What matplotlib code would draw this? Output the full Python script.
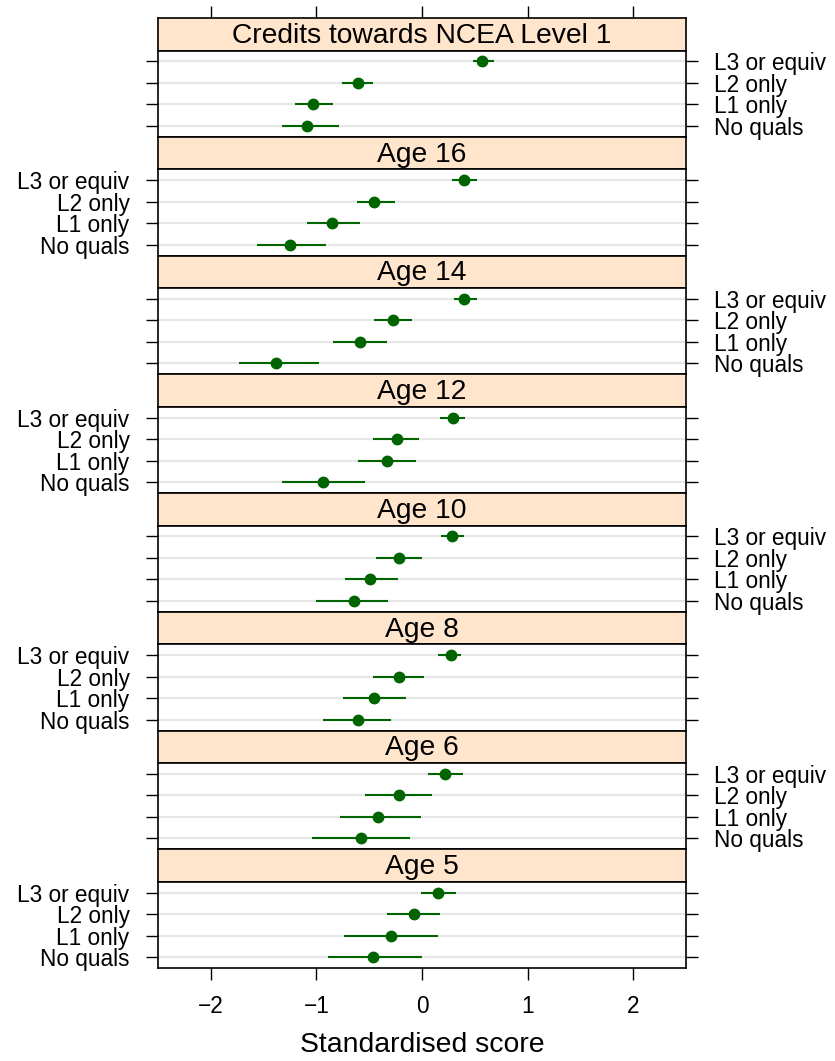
import matplotlib
matplotlib.use("Agg")
import matplotlib.pyplot as plt

plt.rcParams['font.family'] = ['Liberation Sans', 'DejaVu Sans']

# panels, top to bottom
panels = ['Credits towards NCEA Level 1', 'Age 16', 'Age 14', 'Age 12',
          'Age 10', 'Age 8', 'Age 6', 'Age 5']
# levels, bottom to top within a panel
quals = ['No quals', 'L1 only', 'L2 only', 'L3 or equiv']

est = [[-1.09, -1.03, -0.61, 0.57],
       [-1.25, -0.85, -0.45, 0.40],
       [-1.38, -0.59, -0.27, 0.40],
       [-0.94, -0.33, -0.24, 0.29],
       [-0.64, -0.49, -0.22, 0.28],
       [-0.61, -0.45, -0.22, 0.27],
       [-0.58, -0.42, -0.22, 0.22],
       [-0.46, -0.29, -0.08, 0.15]]
lower = [[-1.33, -1.20, -0.76, 0.48],
         [-1.56, -1.09, -0.62, 0.28],
         [-1.73, -0.84, -0.45, 0.30],
         [-1.33, -0.61, -0.46, 0.17],
         [-1.00, -0.73, -0.44, 0.18],
         [-0.94, -0.75, -0.46, 0.15],
         [-1.04, -0.78, -0.54, 0.06],
         [-0.89, -0.74, -0.33, -0.01]]
upper = [[-0.79, -0.84, -0.46, 0.68],
         [-0.91, -0.59, -0.26, 0.52],
         [-0.98, -0.33, -0.09, 0.52],
         [-0.54, -0.06, -0.03, 0.41],
         [-0.32, -0.23, 0.00, 0.40],
         [-0.29, -0.15, 0.02, 0.37],
         [-0.11, -0.01, 0.09, 0.39],
         [0.00, 0.15, 0.17, 0.32]]

W, H = 835, 1061
fig = plt.figure(figsize=(W / 100, H / 100), dpi=100)

left, right = 158, 686
top = 18
step = 118.75
strip_h = 32.5
green = '#006400'
xt = [-2, -1, 0, 1, 2]

for i, name in enumerate(panels):
    s_top = top + i * step
    s_bot = s_top + strip_h
    b_bot = s_top + step
    # strip
    sax = fig.add_axes([left / W, 1 - s_bot / H, (right - left) / W, strip_h / H])
    sax.set_facecolor('#ffe5cc')
    sax.set_xlim(-2.5, 2.5)
    sax.set_yticks([])
    if i == 0:
        sax.set_xticks(xt)
        sax.tick_params(axis='x', top=True, bottom=False, labeltop=False,
                        labelbottom=False, direction='out', length=8.5, width=1)
    else:
        sax.set_xticks([])
    for sp in sax.spines.values():
        sp.set_linewidth(1.2)
    sax.text(0.5, 0.45, name, ha='center', va='center', fontsize=20.3,
             transform=sax.transAxes)
    # body
    ax = fig.add_axes([left / W, 1 - b_bot / H, (right - left) / W, (b_bot - s_bot) / H])
    ypos = range(1, len(quals) + 1)
    for y in ypos:
        ax.axhline(y, color='#e6e6e6', lw=1.5, zorder=1)
    ax.hlines(ypos, lower[i], upper[i], color=green, lw=1.5, zorder=2)
    ax.plot(est[i], ypos, 'o', color=green, ms=7.5, zorder=3)
    ax.set_xlim(-2.5, 2.5)
    ax.set_ylim(0.5, 4.5)
    ax.set_yticks(list(ypos))
    ax.set_yticklabels(quals)
    lab_right = (i % 2 == 0)
    ax.tick_params(axis='y', which='both', left=True, right=True,
                   labelleft=not lab_right, labelright=lab_right,
                   direction='out', length=8.5, width=1, labelsize=16.3,
                   pad=12)
    ax.set_xticks(xt)
    if i == len(panels) - 1:
        ax.set_xticklabels(['\u22122', '\u22121', '0', '1', '2'])
        ax.tick_params(axis='x', top=False, bottom=True, labelbottom=True,
                       direction='out', length=8.5, width=1, labelsize=16.3, pad=11)
        ax.set_xlabel('Standardised score', fontsize=20.4, labelpad=10)
    else:
        ax.tick_params(axis='x', top=False, bottom=False,
                       labelbottom=False, labeltop=False)
    for sp in ax.spines.values():
        sp.set_linewidth(1.2)

fig.savefig('out.png', dpi=100)
